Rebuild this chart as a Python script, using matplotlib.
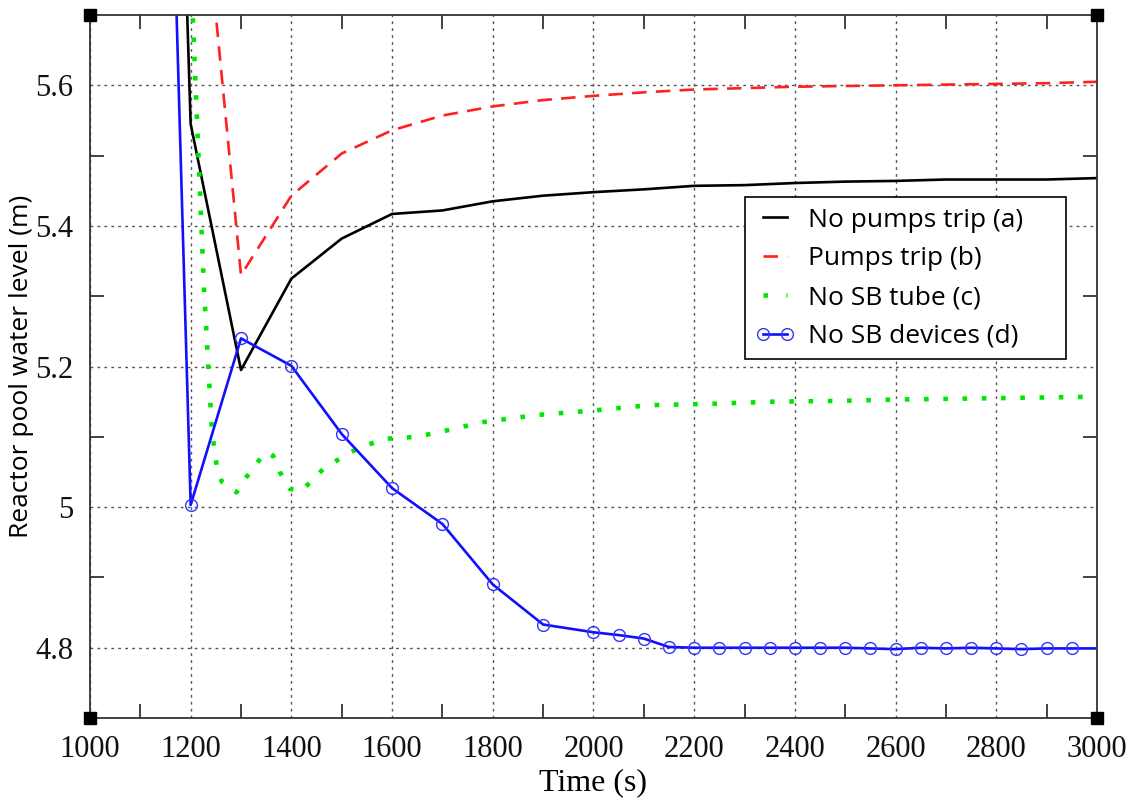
#!/usr/bin/env python3
"""Reactor pool water level after the transient, four cases."""

import matplotlib
matplotlib.use("Agg")
import matplotlib.pyplot as plt
from matplotlib.ticker import MultipleLocator, FuncFormatter

# case (a): no pumps trip
t_a = [1180, 1200, 1300, 1400, 1500, 1600, 1700, 1800, 1900, 2000, 2100,
       2200, 2300, 2400, 2500, 2600, 2700, 2800, 2900, 3000]
lvl_a = [6.00, 5.545, 5.195, 5.325, 5.382, 5.417, 5.422, 5.435, 5.443, 5.448,
         5.452, 5.457, 5.458, 5.461, 5.463, 5.464, 5.466, 5.466, 5.466, 5.468]

# case (b): pumps trip
t_b = [1200, 1300, 1400, 1500, 1600, 1700, 1800, 1900, 2000, 2100, 2200,
       2300, 2400, 2500, 2600, 2700, 2800, 2900, 3000]
lvl_b = [6.07, 5.330, 5.443, 5.503, 5.536, 5.557, 5.570, 5.579, 5.585, 5.590,
         5.594, 5.596, 5.598, 5.599, 5.600, 5.601, 5.602, 5.603, 5.605]

# case (c): no SB tube
t_c = [1195, 1204, 1226, 1235, 1242, 1252, 1262, 1291, 1311, 1348, 1364, 1377,
       1397, 1420, 1463, 1516, 1582, 1649, 1708, 1781, 1887, 1993, 2112, 2237,
       2357, 2476, 2600, 2800, 3000]
lvl_c = [5.85, 5.70, 5.318, 5.201, 5.111, 5.057, 5.036, 5.021, 5.043, 5.078,
         5.073, 5.050, 5.026, 5.023, 5.054, 5.078, 5.097, 5.100, 5.109, 5.121,
         5.131, 5.137, 5.145, 5.147, 5.150, 5.151, 5.153, 5.155, 5.157]

# case (d): no SB devices
t_d = [1100, 1200, 1300, 1400, 1500, 1600, 1700, 1800, 1900, 2000, 2050,
       2100, 2150, 2200, 2250, 2300, 2350, 2400, 2450, 2500, 2550, 2600,
       2650, 2700, 2750, 2800, 2850, 2900, 2950, 3000]
lvl_d = [7.50, 5.003, 5.240, 5.201, 5.104, 5.027, 4.976, 4.890, 4.833, 4.822,
         4.818, 4.813, 4.801, 4.800, 4.800, 4.800, 4.800, 4.800, 4.800, 4.800,
         4.799, 4.798, 4.800, 4.799, 4.800, 4.799, 4.798, 4.799, 4.799, 4.799]

fig = plt.figure(figsize=(11.3, 8.02), dpi=100)
ax = fig.add_axes([0.0796, 0.1047, 0.8912, 0.8766])

ax.plot(t_a, lvl_a, color="black", lw=1.9, label="No pumps trip (a)")
ax.plot(t_b, lvl_b, color="#ff2020", lw=1.9, ls=(0, (5.5, 3.5)),
        label="Pumps trip (b)")
ax.plot(t_c, lvl_c, color="#00e600", lw=3.3, ls=(0, (1, 3.2)),
        dash_capstyle="butt", label="No SB tube (c)")
ax.plot(t_d, lvl_d, color="#1010ff", lw=1.9, marker="o", ms=8.5,
        mfc="none", mec="#3333ff", mew=1.0,
        markevery=list(range(1, len(t_d) - 1)), label="No SB devices (d)")

ax.set_xlim(1000, 3000)
ax.set_ylim(4.7, 5.7)

# grid on the labelled values, short inward ticks in between
ax.xaxis.set_major_locator(MultipleLocator(200))
ax.yaxis.set_major_locator(MultipleLocator(0.2))
ax.yaxis.set_major_formatter(FuncFormatter(lambda v, p: f"{v:g}"))
ax.set_xticks([1100 + 200 * i for i in range(10)], minor=True)
ax.set_yticks([4.7 + 0.2 * i for i in range(1, 5)], minor=True)
ax.tick_params(which="major", length=0, pad=12, labelsize=22,
               labelcolor="#111")
ax.tick_params(which="minor", direction="in", length=10, width=1.2,
               top=True, right=True, color="#222")
for lab in ax.get_xticklabels() + ax.get_yticklabels():
    lab.set_family("Liberation Serif")
ax.grid(True, which="major", color="#555", ls=(0, (2, 3)), lw=1.0)

for s in ax.spines.values():
    s.set_linewidth(1.3)
    s.set_color("#333")

# black squares on the frame corners
ax.plot([1000, 3000, 1000, 3000], [4.7, 4.7, 5.7, 5.7], ls="none",
        marker="s", ms=8, color="black", clip_on=False, zorder=5)

ax.set_xlabel("Time (s)", family="Liberation Serif", fontsize=23,
              labelpad=3)
ax.set_ylabel("Reactor pool water level (m)", family="Open Sans",
              fontsize=19, labelpad=1)

leg = ax.legend(loc="upper left", bbox_to_anchor=(0.650, 0.50, 0.319, 0.241),
                mode="expand", numpoints=2,
                prop={"family": "Open Sans", "size": 19},
                frameon=True, fancybox=False, edgecolor="black",
                framealpha=1, handlelength=1.5, handletextpad=0.5,
                borderpad=0.4, labelspacing=0.52, borderaxespad=0)
leg.get_frame().set_linewidth(1.2)
# two dots only in the legend sample of the dotted case
leg.legend_handles[2].set_linestyle((0, (1, 4)))

fig.savefig("out.png", dpi=100)
